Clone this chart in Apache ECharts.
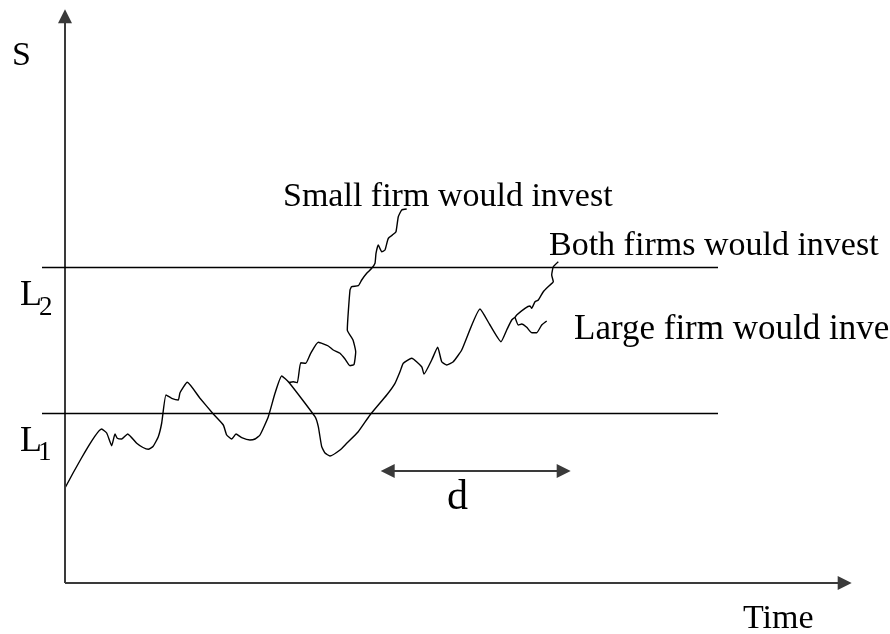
<!DOCTYPE html>
<html>
<head>
<meta charset="utf-8">
<script src="https://cdn.jsdelivr.net/npm/echarts@6/dist/echarts.min.js"></script>
<style>html,body{margin:0;padding:0;background:#fff}#c{width:890px;height:634px}</style>
</head>
<body>
<div id="c"></div>
<script>
// Data frame: x = time, y = S (origin at the axes' crossing)
var trunkPath = [[0,95],[36.7,154],[41.7,150],[46.7,137.3],[50,149],[52.3,144.7],[56.7,144],[62.7,149],[71.7,139.7],[78,135.5],[83.3,133.7],[88,136.5],[93.3,146.3],[96.7,160],[101,188],[106.7,184.7],[113.3,183],[115,190.3],[122.3,200.7],[135,184.7],[148.3,169],[158.3,158],[161.7,148],[166.7,144],[171,149],[176.7,145.3],[185,143],[190,144],[195,148],[203.3,166.3],[210,189.7],[216.7,207],[224,200.5],[250,166.3],[253.3,156.3],[256.7,136.3],[260,130],[265,127],[275,133],[281.7,139.7],[293,151],[305,168],[321.7,188],[330,199.7],[335,211.3],[338.3,219.7],[346.7,224.7],[356.7,216.3],[359,209],[366.7,223],[372.7,235.7],[376.7,221.3],[381.7,218],[388.3,221.3],[396.7,233],[415,274],[425,258],[436,241.3],[441.7,253],[446.7,263],[450,265.7]];
var smallFirmPath = [[224,200.5],[228.3,201.3],[232.3,200.3],[235.7,220.3],[240.7,219.7],[245.7,229.7],[253.3,240.7],[263.3,237],[268.3,233],[275,229.7],[280,224],[285,217.3],[289,218.5],[290.7,231],[288,243],[282.3,253],[285,293],[286.7,296.3],[293.3,297.3],[296.7,303],[301.7,309.7],[306.7,314.7],[310,319.7],[311,329.7],[313.3,338],[316.7,331.3],[320,333],[323.3,344.7],[328.3,348.7],[331,351.3],[333.3,366.3],[336.7,373],[341.7,374]];
var bothFirmsPath = [[450,265.7],[451.7,268],[460,274.7],[465,277],[466.7,274.7],[470,281.3],[473.3,283],[478.3,291.3],[485,298],[488.3,301.3],[486.7,308],[488.3,316.3],[493.3,321.3]];
var largeFirmPath = [[450,265.7],[453.3,258],[456.7,259],[461.7,255.7],[466.7,250.3],[471.7,250.3],[476.7,258],[481.7,262]];
var thresholds = {L1: 169.7, L2: 315.7};
var thresholdSpan = [-23, 653];
var axisEnds = {time: 786.7, S: 573.7};
var dSpan = [315.7, 505.7];
var dLevel = 112;

var chart = echarts.init(document.getElementById('c'), null, {renderer: 'canvas'});
var ARROW = 14;
var axisStyle = {color: '#3a3a3a', width: 2, type: 'solid'};
var thrStyle = {color: '#000', width: 1.3, type: 'solid'};
function pathSeries(name, data) {
  return {
    name: name, type: 'line', data: data, symbol: 'none', smooth: 0.15,
    lineStyle: {color: '#000', width: 1.4}, silent: true, z: 3
  };
}
var serif = '"Liberation Serif", "DejaVu Serif", serif';
function txt(str, x, baseline, size, extra) {
  var style = {text: str, font: size + 'px ' + serif, fill: '#000', align: 'left', verticalAlign: 'middle'};
  if (extra) { for (var k in extra) style[k] = extra[k]; }
  return {type: 'text', x: x, y: baseline - 0.33 * size, silent: true, style: style};
}
var option = {
  animation: false,
  backgroundColor: '#fff',
  grid: {left: 0, right: 0, top: 0, bottom: 0},
  xAxis: {type: 'value', min: -65, max: 825, show: false},
  yAxis: {type: 'value', min: -51, max: 583, show: false},
  series: [
    pathSeries('trunk', trunkPath),
    pathSeries('small', smallFirmPath),
    pathSeries('both', bothFirmsPath),
    pathSeries('large', largeFirmPath),
    {
      type: 'line', data: [], silent: true, z: 2,
      markLine: {
        silent: true, animation: false, label: {show: false},
        symbolSize: [ARROW, ARROW],
        data: [
          [{coord: [0, 0], symbol: 'none', lineStyle: axisStyle}, {coord: [0, axisEnds.S - ARROW / 2], symbol: 'triangle'}],
          [{coord: [0, 0], symbol: 'none', lineStyle: axisStyle}, {coord: [axisEnds.time - ARROW / 2, 0], symbol: 'triangle'}],
          [{coord: [thresholdSpan[0], thresholds.L1], symbol: 'none', lineStyle: thrStyle}, {coord: [thresholdSpan[1], thresholds.L1], symbol: 'none'}],
          [{coord: [thresholdSpan[0], thresholds.L2], symbol: 'none', lineStyle: thrStyle}, {coord: [thresholdSpan[1], thresholds.L2], symbol: 'none'}],
          [{coord: [dSpan[0] + ARROW / 2, dLevel], symbol: 'triangle', lineStyle: axisStyle}, {coord: [dSpan[1] - ARROW / 2, dLevel], symbol: 'triangle'}]
        ]
      }
    }
  ],
  graphic: [
    txt('S', 12, 67, 34),
    txt('L', 20, 307, 36), txt('2', 39, 317, 27),
    txt('L', 20, 453, 36), txt('1', 38, 462, 27),
    txt('Small firm would invest', 283, 208, 34),
    txt('Both firms would invest', 549, 257, 34),
    txt('Large firm would invest', 574, 341, 35, {width: 322, overflow: 'truncate', ellipsis: ''}),
    txt('d', 447, 512, 42),
    txt('Time', 743, 630, 34)
  ]
};
chart.setOption(option);
</script>
</body>
</html>
